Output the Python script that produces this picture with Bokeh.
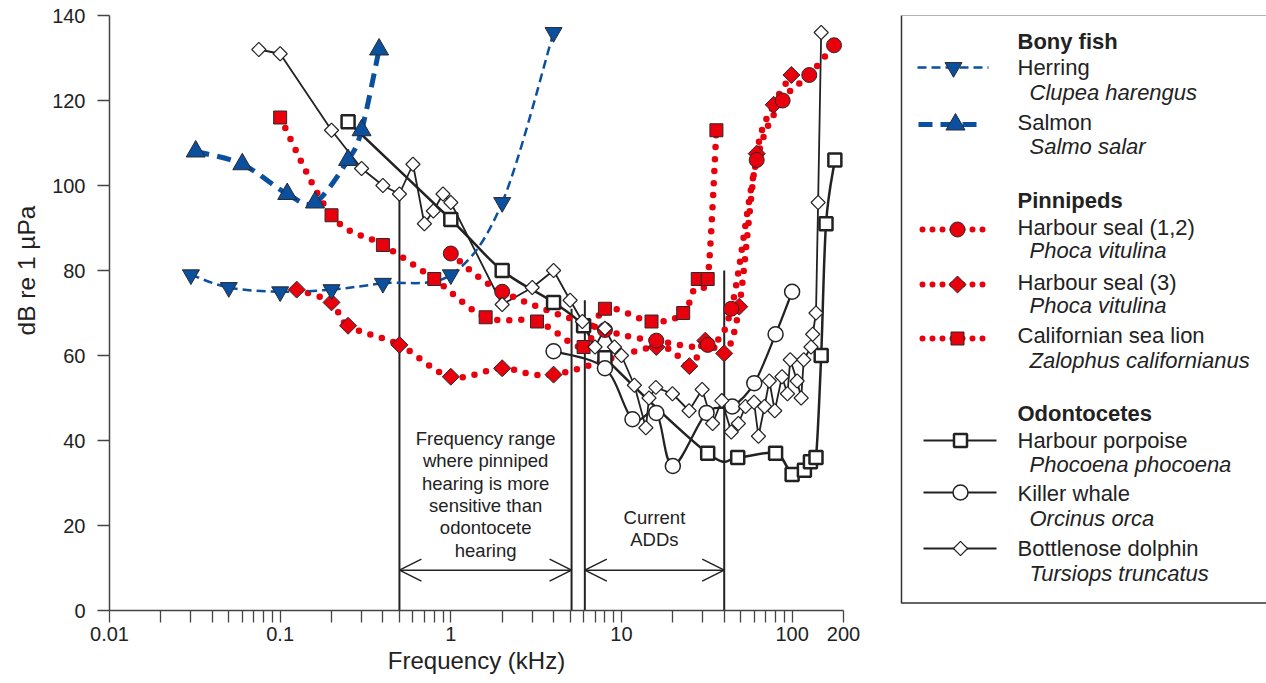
import numpy as np
from bokeh.plotting import figure
from bokeh.layouts import row
from bokeh.models import (Range1d, FixedTicker, NumeralTickFormatter, Arrow, OpenHead,
                          ColumnDataSource)
from bokeh.core.properties import value
from bokeh.embed import file_html
from bokeh.resources import INLINE

FONT = "Liberation Sans"
BLUE = "#0b4f9f"
RED = "#e8000d"
BLACK = "#222222"
EDGE = "#2a2a2a"
TXT = "#222222"

# ---------------- data (frequency kHz, threshold dB re 1 uPa) ----------------
herring_f = [0.03, 0.05, 0.1, 0.2, 0.4, 1.0, 2.0, 4.0]
herring_db = [79, 76, 75, 75.5, 77, 79, 96, 136]

salmon_f = [0.032, 0.06, 0.11, 0.16, 0.25, 0.3, 0.38]
salmon_db = [108, 105, 98, 96, 106, 113, 132]

seal12_f = [1, 2, 8, 16, 32, 44, 62, 88, 126, 176]
seal12_db = [84, 75, 66, 63.5, 62.5, 71, 106, 120, 126, 133]

seal3_f = [0.125, 0.2, 0.25, 0.5, 1, 2, 4, 16, 25, 31, 40, 49, 62, 78, 99]
seal3_db = [75.5, 72.5, 67, 62.5, 55, 57, 55.5, 62, 57.5, 63.5, 60.5, 71.5, 107.5, 119, 126]

sealion_f = [0.1, 0.2, 0.4, 0.8, 1.6, 3.2, 6, 8, 15, 23, 28, 32, 36]
sealion_db = [116, 93, 86, 78, 69, 68, 62, 71, 68, 70, 78, 78, 113]

porpoise_f = [0.25, 1, 2, 4, 6, 8, 32, 48, 80, 100, 118, 128, 138, 148, 158, 178]
porpoise_db = [115, 92, 80, 72.5, 67, 59.5, 37, 36, 37, 32, 33, 35, 36, 60, 91, 106]

killer_f = [4, 8, 11.6, 16, 20, 31.5, 44.6, 60, 80, 100]
killer_db = [61, 57, 45, 46.5, 34, 46.5, 48, 53.5, 65, 75]

dolphin_f = [0.075, 0.1, 0.2, 0.3, 0.4, 0.5, 0.6, 0.7, 0.79, 0.9, 1.0, 2.0, 3.0, 4.0,
             5.0, 5.9, 7.0, 8.0, 9.1, 10, 11.9, 13.9, 14.5, 15.9, 19.9, 24.9, 29.7,
             34.2, 38.7, 44, 48.4, 53.3, 59.8, 63.5, 68.9, 73.5, 79.1, 87.2, 93.9,
             97.5, 107, 113, 117, 129, 132, 138, 142, 148]
dolphin_db = [132, 131, 113, 104, 100, 98, 105, 91, 94, 98, 96, 72, 76, 80,
              73, 68, 62, 66.4, 62, 60, 53, 43, 50, 52.5, 51, 47, 52,
              44, 49.4, 42, 44, 48, 49, 41, 48, 54, 47, 55, 51,
              59, 54, 50, 59, 62, 65, 70, 96, 136]

# annotation ranges
vline_f = [0.5, 5.1, 6.1, 40]
vline_top = [98, 71, 73, 80]
arrow_ranges = [(0.5, 5.1), (6.1, 40)]
arrow_db = 9.5
note1_lines = ["Frequency range", "where pinniped", "hearing is more",
               "sensitive than", "odontocete", "hearing"]
note2_lines = ["Current", "ADDs"]

major_ticks = [0.01, 0.1, 1, 10, 100, 200]
minor_ticks = [m * d for d in (0.01, 0.1, 1, 10) for m in range(2, 10)]
y_ticks = list(range(0, 141, 20))


def cr_bezier(fs, vs, t=1.0):
    u = np.log10(np.asarray(fs, float))
    v = np.asarray(vs, float)
    n = len(u)
    d = {k: [] for k in ("x0", "y0", "x1", "y1", "cx0", "cy0", "cx1", "cy1")}
    for i in range(n - 1):
        a = i - 1 if i > 0 else i
        b = i + 2 if i + 2 < n else i + 1
        c1u = u[i] + (u[i + 1] - u[a]) / 6 * t
        c1v = v[i] + (v[i + 1] - v[a]) / 6 * t
        c2u = u[i + 1] - (u[b] - u[i]) / 6 * t
        c2v = v[i + 1] - (v[b] - v[i]) / 6 * t
        d["x0"].append(10 ** u[i]); d["y0"].append(v[i])
        d["x1"].append(10 ** u[i + 1]); d["y1"].append(v[i + 1])
        d["cx0"].append(10 ** c1u); d["cy0"].append(c1v)
        d["cx1"].append(10 ** c2u); d["cy1"].append(c2v)
    return ColumnDataSource(d)


def curve(fig, fs, vs, **kw):
    fig.bezier(x0="x0", y0="y0", x1="x1", y1="y1", cx0="cx0", cy0="cy0",
               cx1="cx1", cy1="cy1", source=cr_bezier(fs, vs), **kw)


H = 680      # total height
TOP = 15     # page y of plot frame top
LW = 45      # width of the y-title strip

p = figure(x_axis_type="log", x_range=Range1d(0.01, 200), y_range=Range1d(0, 140),
           frame_width=734, frame_height=595, min_border_left=109 - LW, min_border_right=37,
           min_border_top=TOP, min_border_bottom=H - TOP - 595, output_backend="svg",
           toolbar_location=None, outline_line_color=None)
p.grid.visible = False

xa = p.xaxis[0]
xa.ticker = FixedTicker(ticks=major_ticks, minor_ticks=minor_ticks)
xa.formatter = NumeralTickFormatter(format="0.[00]")
ya = p.yaxis[0]
ya.ticker = FixedTicker(ticks=y_ticks, minor_ticks=[])
for ax in (xa, ya):
    ax.axis_line_color = "#444444"
    ax.axis_line_width = 1.5
    ax.major_tick_line_color = "#444444"
    ax.minor_tick_line_color = "#444444"
    ax.major_tick_line_width = 1.3
    ax.minor_tick_line_width = 1.3
    ax.major_tick_in = 0
    ax.minor_tick_in = 0
    ax.major_tick_out = 12
    ax.minor_tick_out = 12
    ax.major_label_text_font = FONT
    ax.major_label_text_font_size = "20px"
    ax.major_label_text_color = TXT
    ax.axis_label_text_font = FONT
    ax.axis_label_text_font_size = "24px"
    ax.axis_label_text_font_style = "normal"
    ax.axis_label_text_color = TXT
xa.axis_label = "Frequency (kHz)"
xa.major_label_standoff = 4
xa.axis_label_standoff = 3
ya.major_label_standoff = 12

# vertical annotation lines and arrows
p.segment(x0=vline_f, y0=[0] * len(vline_f), x1=vline_f, y1=vline_top,
          line_color=BLACK, line_width=2)
for a, b in arrow_ranges:
    p.add_layout(Arrow(start=OpenHead(size=22, line_width=1.5, line_color=BLACK),
                       end=OpenHead(size=22, line_width=1.5, line_color=BLACK),
                       x_start=a, y_start=arrow_db, x_end=b, y_end=arrow_db,
                       line_width=1.5, line_color=BLACK))

p.text(x=[1.6] * len(note1_lines), y=[40.5] * len(note1_lines),
       y_offset=[i * 22.4 for i in range(len(note1_lines))], text=note1_lines,
       text_font=value(FONT), text_font_size="18.5px", text_align="center",
       text_baseline="middle", text_color=TXT)
p.text(x=[15.6] * len(note2_lines), y=[21.9] * len(note2_lines),
       y_offset=[i * 22.4 for i in range(len(note2_lines))], text=note2_lines,
       text_font=value(FONT), text_font_size="18.5px", text_align="center",
       text_baseline="middle", text_color=TXT)

# odontocete lines
curve(p, porpoise_f, porpoise_db, line_color=BLACK, line_width=2.5)
curve(p, killer_f, killer_db, line_color=BLACK, line_width=2.2)
p.line(dolphin_f, dolphin_db, line_color=BLACK, line_width=1.8)

# pinniped dotted lines
dot = dict(line_color=RED, line_width=6.5, line_dash="0 12", line_cap="round")
curve(p, sealion_f, sealion_db, **dot)
curve(p, seal3_f, seal3_db, **dot)
curve(p, seal12_f, seal12_db, **dot)

# fish lines
curve(p, herring_f, herring_db, line_color=BLUE, line_width=2.5, line_dash="9 5")
curve(p, salmon_f, salmon_db, line_color=BLUE, line_width=5, line_dash="14 8")

# markers
p.scatter(sealion_f, sealion_db, marker="square", size=13, fill_color=RED, line_color=EDGE, line_width=1)
p.scatter(seal3_f, seal3_db, marker="square", angle=np.pi / 4, size=12, fill_color=RED, line_color=EDGE, line_width=1)
p.scatter(seal12_f, seal12_db, marker="circle", size=15, fill_color=RED, line_color=EDGE, line_width=1)
p.scatter(porpoise_f, porpoise_db, marker="square", size=13, fill_color="white", line_color=BLACK, line_width=2.5)
p.scatter(killer_f, killer_db, marker="circle", size=15, fill_color="white", line_color=BLACK, line_width=1.5)
p.scatter(dolphin_f, dolphin_db, marker="square", angle=np.pi / 4, size=10, fill_color="white", line_color=BLACK, line_width=1.2)
p.scatter(herring_f, herring_db, marker="inverted_triangle", size=17, fill_color=BLUE, line_color=EDGE, line_width=1)
p.scatter(salmon_f, salmon_db, marker="triangle", size=19, fill_color=BLUE, line_color=EDGE, line_width=1)


def side_panel(x0, x1):
    f = figure(x_range=Range1d(x0, x1), y_range=Range1d(H, TOP), frame_width=x1 - x0,
               frame_height=H - TOP, min_border=0, min_border_left=0, min_border_right=0,
               min_border_top=0, min_border_bottom=0, x_axis_location=None,
               y_axis_location=None, toolbar_location=None, output_backend="svg",
               outline_line_color=None)
    f.grid.visible = False
    return f


# ---------------- y-axis title strip (page pixel coordinates) ----------------
Y = side_panel(0, LW)
Y.text(x=[26], y=[270], text=["dB re 1 µPa"], angle=np.pi / 2, text_font=value(FONT),
       text_font_size="24.5px", text_align="center", text_baseline="middle", text_color=TXT)

# ---------------- legend panel (page pixel coordinates) ----------------
L = side_panel(880, 1266)
L.quad(left=[901], right=[1400], top=[14.5], bottom=[602.5], fill_color=None,
       line_color="#333333", line_width=1.5)

headers = ["Bony fish", "Pinnipeds", "Odontocetes"]
header_y = [41, 200, 413]
names = ["Herring", "Salmon", "Harbour seal (1,2)", "Harbour seal (3)",
         "Californian sea lion", "Harbour porpoise", "Killer whale", "Bottlenose dolphin"]
names_y = [67, 122, 227, 282, 335, 440, 493, 548]
species = ["Clupea harengus", "Salmo salar", "Phoca vitulina", "Phoca vitulina",
           "Zalophus californianus", "Phocoena phocoena", "Orcinus orca", "Tursiops truncatus"]
species_y = [92, 146, 250, 305, 360, 464, 518, 573]

tk = dict(text_font=value(FONT), text_font_size="22px", text_baseline="middle", text_color=TXT)
L.text(x=[1017] * 3, y=header_y, text=headers, text_font_style="bold", **tk)
L.text(x=[1017] * 8, y=names_y, text=names, **tk)
L.text(x=[1029] * 8, y=species_y, text=species, text_font_style="italic", **tk)

sym_y = [67, 124, 229, 284, 338, 440, 492, 548]
L.line([917, 988], [sym_y[0]] * 2, line_color=BLUE, line_width=2.5, line_dash="9 5")
L.scatter([953], [sym_y[0]], marker="inverted_triangle", size=17, fill_color=BLUE, line_color=EDGE)
L.line([918, 984], [sym_y[1]] * 2, line_color=BLUE, line_width=5, line_dash="14 8")
L.scatter([955], [sym_y[1]], marker="triangle", size=19, fill_color=BLUE, line_color=EDGE)
for yy, mk, ang, sz in [(sym_y[2], "circle", 0, 15), (sym_y[3], "square", np.pi / 4, 12),
                        (sym_y[4], "square", 0, 13)]:
    L.line([922, 988], [yy, yy], line_color=RED, line_width=6, line_dash="0 10", line_cap="round")
    L.scatter([957], [yy], marker=mk, angle=ang, size=sz, fill_color=RED, line_color=EDGE)
for yy, mk, ang, sz, lw in [(sym_y[5], "square", 0, 13, 2.5), (sym_y[6], "circle", 0, 15, 1.5),
                            (sym_y[7], "square", np.pi / 4, 10, 1.2)]:
    L.line([923, 996], [yy, yy], line_color=BLACK, line_width=2)
    L.scatter([960], [yy], marker=mk, angle=ang, size=sz, fill_color="white", line_color=BLACK, line_width=lw)

layout = row(Y, p, L)
open("out.html", "w").write(file_html(layout, INLINE))
